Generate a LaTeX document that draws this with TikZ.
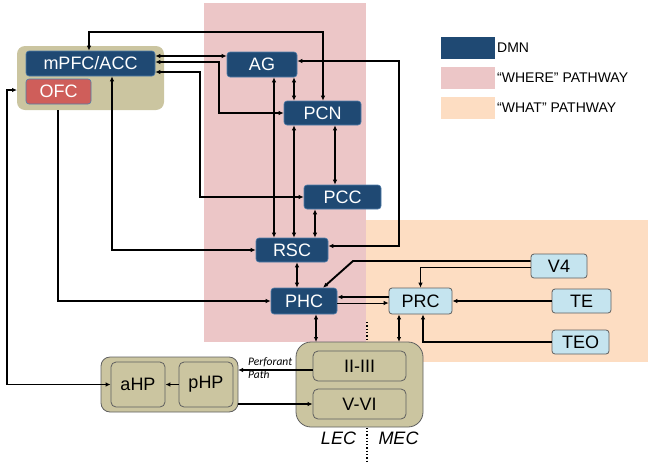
\documentclass[tikz,border=0pt]{standalone}
\usepackage{fontspec}
\setmainfont{Liberation Sans}
\newfontfamily\calib{Carlito}
\usetikzlibrary{arrows.meta}
\definecolor{dmn}{RGB}{31,73,115}
\definecolor{dmnedge}{RGB}{80,125,170}
\definecolor{wherec}{RGB}{236,198,199}
\definecolor{whatc}{RGB}{253,221,194}
\definecolor{tanc}{RGB}{203,197,160}
\definecolor{lblue}{RGB}{197,228,239}
\definecolor{ofcred}{RGB}{207,94,90}
\definecolor{edgegray}{RGB}{95,95,95}
\tikzset{
  >={Latex[length=5pt,width=4.5pt]},
  dmnbox/.style={draw=dmnedge,line width=0.6pt,fill=dmn,text=white,rounded corners=3pt,font=\fontsize{18}{18}\selectfont,inner sep=0pt},
  visbox/.style={draw=edgegray,line width=0.8pt,fill=lblue,text=black,rounded corners=3pt,font=\fontsize{18}{18}\selectfont,inner sep=0pt},
  tanbox/.style={draw=edgegray,line width=0.8pt,fill=tanc,text=black,rounded corners=5pt,font=\fontsize{18}{18}\selectfont,inner sep=0pt},
  conn/.style={line width=1.9pt},
  thin conn/.style={line width=0.9pt},
  legtext/.style={anchor=west,font=\fontsize{14}{14}\selectfont,inner sep=0pt}
}
\begin{document}
\begin{tikzpicture}[x=1pt,y=-1pt]
\useasboundingbox (0,0) rectangle (648,464);
% regions
\fill[whatc] (366,220) rectangle (648,362);
\fill[wherec] (204,3) rectangle (366,342);
% legend
\fill[dmn] (441,37) rectangle (495,59);
\fill[wherec] (441,67) rectangle (495,89);
\fill[whatc] (441,97) rectangle (495,119);
\node[legtext] (lg1) at (497,48) {DMN};
\node[legtext] (lg2) at (497,78) {“WHERE” PATHWAY};
\node[legtext] (lg3) at (497,108) {“WHAT” PATHWAY};
% dotted divider
\draw[line width=1.3pt,dotted] (367,322) -- (367,462);
% groups
\fill[tanc,rounded corners=8pt] (17,46) rectangle (164,110);
\coordinate (g1w) at (17,90);
\coordinate (g1s) at (58,110);
\draw[tanbox,rounded corners=9pt] (101,357) rectangle (238,412);
\draw[tanbox,rounded corners=15pt] (296,342) rectangle (423,427);
% nodes
\node[dmnbox,minimum width=129pt,minimum height=25pt] (mpfc) at (90.5,63.5) {mPFC/ACC};
\node[draw=dmnedge,line width=0.6pt,fill=ofcred,text=white,rounded corners=3pt,font=\fontsize{18}{18}\selectfont,inner sep=0pt,minimum width=65pt,minimum height=25pt] (ofc) at (58.5,91.5) {OFC};
\node[dmnbox,minimum width=70pt,minimum height=25pt] (ag) at (262,64.5) {AG};
\node[dmnbox,minimum width=77pt,minimum height=24pt] (pcn) at (322.5,113) {PCN};
\node[dmnbox,minimum width=77pt,minimum height=24pt] (pcc) at (342.5,197) {PCC};
\node[dmnbox,minimum width=72pt,minimum height=24pt] (rsc) at (292,250) {RSC};
\node[dmnbox,minimum width=66pt,minimum height=26pt] (phc) at (304,301) {PHC};
\node[visbox,minimum width=63pt,minimum height=26pt] (prc) at (420.5,301) {PRC};
\node[visbox,minimum width=56pt,minimum height=24pt] (v4) at (559,266) {V4};
\node[visbox,minimum width=59pt,minimum height=24pt] (te) at (581.5,301) {TE};
\node[visbox,minimum width=57pt,minimum height=24pt] (teo) at (580.5,342) {TEO};
\node[tanbox,minimum width=93pt,minimum height=30pt] (ii) at (359.5,366) {II-III};
\node[tanbox,minimum width=93pt,minimum height=30pt] (vvi) at (359.5,404) {V-VI};
\node[tanbox,minimum width=54pt,minimum height=45pt] (ahp) at (138,384.5) {aHP};
\node[tanbox,minimum width=54pt,minimum height=45pt] (php) at (206,384.5) {pHP};
\coordinate (hpe) at (238,370);
\coordinate (hpe2) at (238,404);
\coordinate (ect1) at (316,342);
\coordinate (ect2) at (399,342);
% labels
\node[font=\fontsize{18}{18}\selectfont\itshape,inner sep=0pt] (lec) at (338.5,438) {LEC};
\node[font=\fontsize{18}{18}\selectfont\itshape,inner sep=0pt] (mec) at (398.5,438) {MEC};
\node[font=\calib\fontsize{11.5}{13}\selectfont\itshape,anchor=north west,align=left,inner sep=0pt] (pp) at (248,357) {Perforant\\Path};
% connectors
\draw[conn,<->] (mpfc.north -| 89,0) -- (89,32) -- (323,32) -- (pcn.north -| 323,0);
\draw[conn,<->] (mpfc.east |- 0,56) -- (ag.west |- 0,56);
\draw[conn,<->] (mpfc.east |- 0,62) -- (219,62) -- (219,113) -- (pcn.west);
\draw[conn,<->] (mpfc.east |- 0,72) -- (200,72) -- (200,197) -- (pcc.west);
\draw[conn,<->] (ag.east |- 0,61) -- (399,61) -- (399,246) -- (rsc.east |- 0,246);
\draw[conn,<->] (ag.south -| 274,0) -- (rsc.north -| 274,0);
\draw[conn,<->] (ag.south -| 294,0) -- (pcn.north -| 294,0);
\draw[conn,<->] (pcn.south -| 294,0) -- (rsc.north -| 294,0);
\draw[conn,<->] (pcn.south -| 335,0) -- (pcc.north -| 335,0);
\draw[conn,<->] (pcc.south -| 315,0) -- (rsc.north -| 315,0);
\draw[conn,<->] (rsc.south -| 297,0) -- (phc.north -| 297,0);
\draw[conn,<->] (mpfc.south -| 112,0) -- (112,250) -- (rsc.west);
\draw[conn,->] (g1s) -- (58,301) -- (phc.west);
\draw[conn,<->] (g1w) -- (7,90) -- (7,384.5) -- (ahp.west);
\draw[conn,->] (php.west) -- (ahp.east);
\draw[conn,->] (ii.west |- 0,370) -- (hpe);
\draw[conn,->] (hpe2) -- (vvi.west);
\draw[conn,<->] (phc.south -| 316,0) -- (ect1);
\draw[conn,<->] (prc.south -| 399,0) -- (ect2);
\draw[conn,->] (v4.west |- 0,261) -- (353,261) -- (phc.north -| 323,0);
\draw[thin conn,->] (v4.west |- 0,267) -- (420.5,267) -- (prc.north);
\draw[conn,->] (prc.west |- 0,297) -- (phc.east |- 0,297);
\draw[thin conn,->] (phc.east |- 0,303) -- (prc.west |- 0,303);
\draw[conn,->] (te.west) -- (prc.east);
\draw[conn,->] (teo.west) -- (423,342) -- (prc.south -| 423,0);
\end{tikzpicture}
\end{document}
